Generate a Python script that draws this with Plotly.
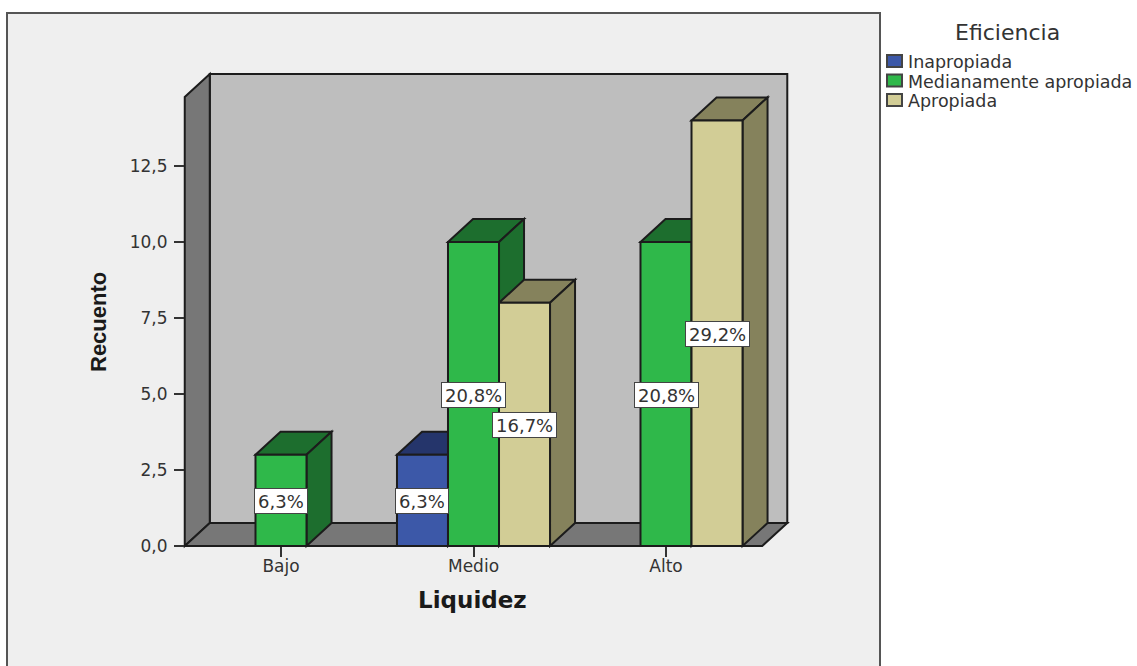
import plotly.graph_objects as go

# Counts per liquidity level; None marks an empty cell
categories = ["Bajo", "Medio", "Alto"]
series_names = ["Inapropiada", "Medianamente apropiada", "Apropiada"]
inapropiada = [None, 3, None]
medianamente = [3, 10, 10]
apropiada = [None, 8, 14]
pct_inapropiada = [None, "6,3%", None]
pct_medianamente = ["6,3%", "20,8%", "20,8%"]
pct_apropiada = [None, "16,7%", "29,2%"]
y_ticks = [0, 2.5, 5, 7.5, 10, 12.5]

front_colors = ["#3c58a8", "#2fb84a", "#d2cd96"]
side_colors = ["#25356b", "#1d6e2e", "#85825c"]

values = [inapropiada, medianamente, apropiada]
labels = [pct_inapropiada, pct_medianamente, pct_apropiada]

# Pseudo-3D geometry, in axis units
BAR_GAP = 0.205
BAR_W = (1 - BAR_GAP) / 3
DX, DY = 0.13, 0.757
FLOOR_L, FLOOR_R = -0.5, 2.5
WALL_TOP = 14.77
EDGE = "#1c1c1c"
FONT = "DejaVu Sans"
TEXT = "#333333"

# Pixel frame of the subplot inside the page
W, H = 1137, 666
PL, PR, PT, PB = 178, 794, 70, 552
px_per_x = 192.5
px_per_y = 30.4
x_range = [(PL - 281) / px_per_x, (PR - 281) / px_per_x]
y_range = [(546 - PB) / px_per_y, (546 - PT) / px_per_y]


def poly(pts, fill, width=2):
    path = "M" + " L".join(f"{x},{y}" for x, y in pts) + " Z"
    return dict(type="path", path=path, xref="x", yref="y", layer="below",
                fillcolor=fill, line=dict(color=EDGE, width=width))


def paper_x(px):
    return (px - PL) / (PR - PL)


def paper_y(py):
    return (PB - py) / (PB - PT)


shapes = [
    # Outer chart panel
    dict(type="rect", xref="paper", yref="paper", layer="below",
         x0=paper_x(7), x1=paper_x(880), y0=paper_y(690), y1=paper_y(13),
         fillcolor="#efefef", line=dict(color="#555555", width=2)),
    # Back wall, left wall and floor of the box
    poly([(FLOOR_L + DX, DY), (FLOOR_R + DX, DY), (FLOOR_R + DX, WALL_TOP + DY),
          (FLOOR_L + DX, WALL_TOP + DY)], "#bebebe"),
    poly([(FLOOR_L, 0), (FLOOR_L + DX, DY), (FLOOR_L + DX, WALL_TOP + DY),
          (FLOOR_L, WALL_TOP)], "#777777"),
    poly([(FLOOR_L, 0), (FLOOR_R, 0), (FLOOR_R + DX, DY), (FLOOR_L + DX, DY)], "#777777"),
]

annotations = []
for s, vals in enumerate(values):
    for c, v in enumerate(vals):
        if v is None:
            continue
        left = c + (s - 1.5) * BAR_W
        right = left + BAR_W
        # Top and right faces sit behind the front faces drawn as bars
        shapes.append(poly([(left, v), (left + DX, v + DY), (right + DX, v + DY), (right, v)],
                           side_colors[s]))
        shapes.append(poly([(right, 0), (right + DX, DY), (right + DX, v + DY), (right, v)],
                           side_colors[s]))
        annotations.append(dict(
            x=(left + right) / 2, y=v / 2, xref="x", yref="y", text=labels[s][c],
            yshift=-1, showarrow=False, bgcolor="#ffffff", bordercolor="#444444",
            borderwidth=1, borderpad=3, height=18,
            font=dict(family=FONT, size=18, color=TEXT)))

annotations.append(dict(
    x=paper_x(472), y=paper_y(600), xref="paper", yref="paper", text="<b>Liquidez</b>",
    xanchor="center", yanchor="middle", showarrow=False,
    font=dict(family=FONT, size=23, color="#1a1a1a")))
annotations.append(dict(
    x=paper_x(98), y=paper_y(322), xref="paper", yref="paper", text="<b>Recuento</b>",
    xanchor="center", yanchor="middle", textangle=-90, showarrow=False,
    font=dict(family="Liberation Sans", size=22, color="#1a1a1a")))

# Compact key beside the panel, tighter than the built-in legend allows
annotations.append(dict(
    x=paper_x(1007), y=paper_y(32), xref="paper", yref="paper", text="Eficiencia",
    xanchor="center", yanchor="middle", showarrow=False,
    font=dict(family=FONT, size=22, color=TEXT)))
for s, name in enumerate(series_names):
    row_y = 61 + s * 19.5
    shapes.append(dict(
        type="rect", xref="paper", yref="paper", layer="above",
        x0=paper_x(887), x1=paper_x(902), y0=paper_y(row_y + 6), y1=paper_y(row_y - 6),
        fillcolor=front_colors[s], line=dict(color="#444444", width=2)))
    annotations.append(dict(
        x=paper_x(906), y=paper_y(row_y + 1), xref="paper", yref="paper", text=name,
        xanchor="left", yanchor="middle", showarrow=False,
        font=dict(family=FONT, size=17.5, color=TEXT)))

fig = go.Figure()
for s, name in enumerate(series_names):
    fig.add_bar(x=[0, 1, 2], y=values[s], name=name, marker_color=front_colors[s],
                marker_line=dict(color=EDGE, width=2))

fig.update_layout(
    width=W, height=H, autosize=False,
    margin=dict(l=PL, r=W - PR, t=PT, b=H - PB, autoexpand=False),
    paper_bgcolor="#ffffff", plot_bgcolor="rgba(0,0,0,0)",
    barmode="group", bargap=BAR_GAP, bargroupgap=0,
    separators=",.", showlegend=False,
    shapes=shapes, annotations=annotations,
    font=dict(family=FONT, size=15, color=TEXT),
    xaxis=dict(
        range=x_range, tickvals=[0, 1, 2], ticktext=categories,
        showgrid=False, zeroline=False, showline=False,
        ticks="outside", ticklen=10, tickwidth=2, tickcolor="#333333",
        ticklabelstandoff=-5,
        anchor="free", position=(PB - 546) / (PB - PT),
        tickfont=dict(family=FONT, size=17, color=TEXT)),
    yaxis=dict(
        range=y_range, tickvals=y_ticks, tickformat=".1f",
        showgrid=False, zeroline=False, showline=False,
        ticks="outside", ticklen=10, tickwidth=2, tickcolor="#333333",
        ticklabelstandoff=3,
        anchor="free", position=(184 - PL) / (PR - PL),
        tickfont=dict(family=FONT, size=17, color=TEXT)),
)

fig.write_html("out.html")
